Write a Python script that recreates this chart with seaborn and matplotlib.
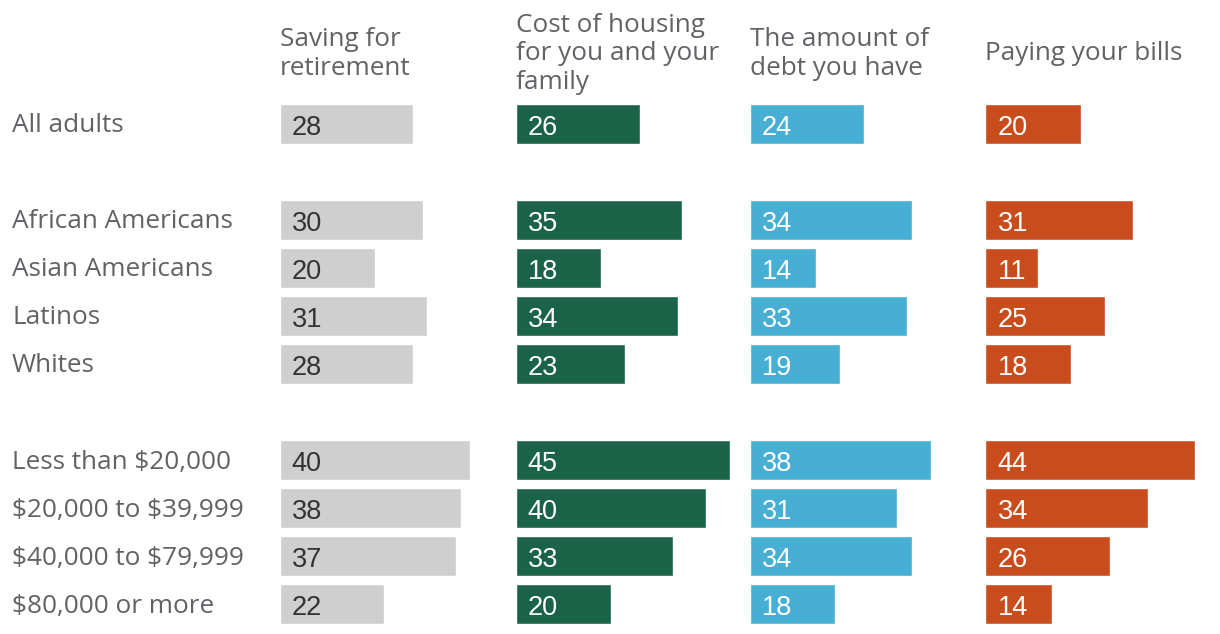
import matplotlib
matplotlib.use('Agg')
import matplotlib.pyplot as plt
import seaborn as sns
import pandas as pd

# Data (percent)
groups = ['All adults', 'African Americans', 'Asian Americans', 'Latinos', 'Whites',
          'Less than $20,000', '$20,000 to $39,999', '$40,000 to $79,999', '$80,000 or more']
row_pos = [0, 2, 3, 4, 5, 7, 8, 9, 10]

headers = ['Saving for\nretirement', 'Cost of housing\nfor you and your\nfamily',
           'The amount of\ndebt you have', 'Paying your bills']
retirement = [28, 30, 20, 31, 28, 40, 38, 37, 22]
housing = [26, 35, 18, 34, 23, 45, 40, 33, 20]
debt = [24, 34, 14, 33, 19, 38, 31, 34, 18]
bills = [20, 31, 11, 25, 18, 44, 34, 26, 14]
series = [retirement, housing, debt, bills]
colors = ['#cfcfcf', '#1a6349', '#46afd3', '#c94c1c']
text_colors = ['#333333', 'white', 'white', 'white']

sns.set_theme(style='white')
plt.rcParams['font.family'] = ['Open Sans', 'DejaVu Sans']
plt.rcParams['text.parse_math'] = False

W, H = 1220, 634
fig = plt.figure(figsize=(W / 100, H / 100), dpi=100)

px_per_unit = 4.77
panel_left = [279.5, 515.5, 749.5, 985.5]
panel_w = 225
top_px, bottom_px = 100, 628
label_gray = '#616266'

for i, vals in enumerate(series):
    ax = fig.add_axes([panel_left[i] / W, (H - bottom_px) / H,
                       panel_w / W, (bottom_px - top_px) / H])
    df = pd.DataFrame({'value': vals, 'pos': row_pos})
    sns.barplot(data=df, x='value', y='pos', orient='h', native_scale=True,
                color=colors[i], saturation=1, width=0.833, ax=ax)
    ax.set_xlim(0, panel_w / px_per_unit)
    ax.set_ylim(10.5, -0.5)
    ax.axis('off')
    for v, p in zip(vals, row_pos):
        ax.text(12 / px_per_unit, p + 0.09, str(v), ha='left', va='center',
                fontsize=19.5, color=text_colors[i], family=['Liberation Sans'])
    fig.text(panel_left[i] / W, 1 - 54 / H, headers[i], ha='left', va='center',
             fontsize=18.8, color=label_gray, linespacing=1.2)

for g, p in zip(groups, row_pos):
    y_px = 126 + 48 * p
    fig.text(12 / W, 1 - y_px / H, g, ha='left', va='center',
             fontsize=18.8, color=label_gray)

fig.savefig('out.png', dpi=100)
